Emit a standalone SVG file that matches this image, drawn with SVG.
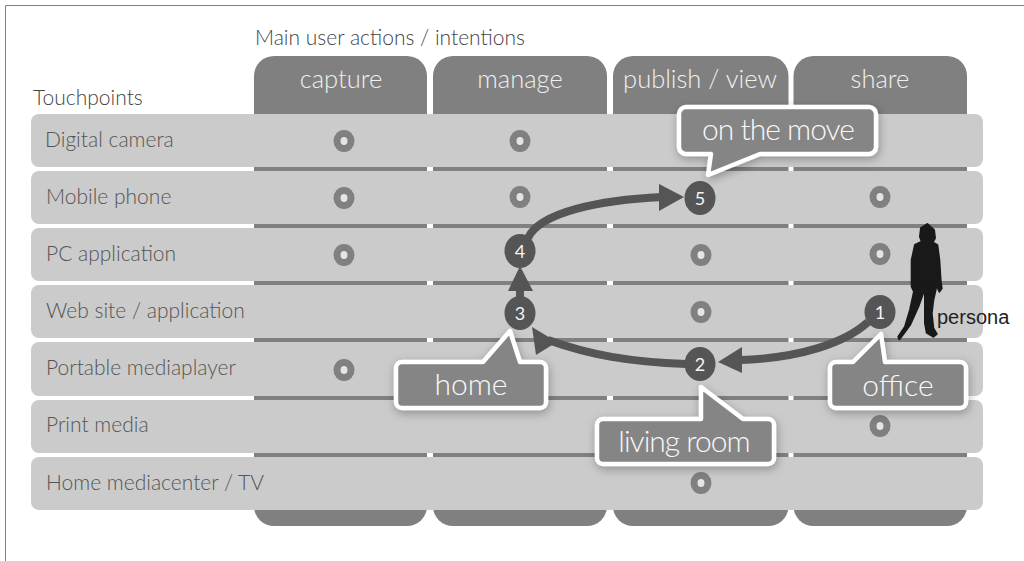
<svg xmlns="http://www.w3.org/2000/svg" width="1024" height="561" viewBox="0 0 1024 561">
<defs>
<style>
text{font-family:"Lato","Open Sans","Liberation Sans",sans-serif;font-weight:300}
.col{fill:#808080}
.row{fill:#cbcbcb}
.rl{font-size:21px;fill:#555}
.ttl{font-size:21px;fill:#444}
.hd{font-size:25.500px;fill:#f0f0f0;text-anchor:middle}
.dot{fill:#e4e4e4;stroke:#808080;stroke-width:7}
.num{fill:#555}
.nt{font-size:18px;fill:#f4f4f4;text-anchor:middle;font-weight:400}
.call{fill:#858585;stroke:#fff;stroke-width:4.500;stroke-linejoin:round;filter:url(#sh)}
.ct{font-size:30px;fill:#f8f8f8;text-anchor:middle}
.tight{letter-spacing:-1px}
.ln{fill:none;stroke:#555;stroke-width:8}
.hdh{fill:#555}
</style>
<filter id="sh" x="-20%" y="-30%" width="140%" height="170%"><feDropShadow dx="1" dy="3" stdDeviation="5" flood-color="#000" flood-opacity=".3"/></filter>
</defs>
<path d="M5.500 561V5.500H1024" fill="none" stroke="#808080" stroke-width="1"/>
<g id="columns">
<g id="col-capture"><rect class="col" x="254" y="56" width="173" height="470" rx="20"/><text class="hd" x="341" y="88">capture</text></g>
<g id="col-manage"><rect class="col" x="433" y="56" width="174" height="470" rx="20"/><text class="hd" x="520" y="88">manage</text></g>
<g id="col-publish"><rect class="col" x="613" y="56" width="175.500" height="470" rx="20"/><text class="hd" x="700" y="88">publish / view</text></g>
<g id="col-share"><rect class="col" x="793.500" y="56" width="173.500" height="470" rx="20"/><text class="hd" x="880" y="88">share</text></g>
</g>
<text class="ttl" x="33" y="105">Touchpoints</text>
<text class="ttl" x="255" y="45">Main user actions / intentions</text>
<g id="rows">
<g id="row-1"><rect class="row" x="31" y="114" width="952" height="53" rx="8"/><text class="rl" x="45" y="147">Digital camera</text></g>
<g id="row-2"><rect class="row" x="31" y="171" width="952" height="53" rx="8"/><text class="rl" x="46" y="204">Mobile phone</text></g>
<g id="row-3"><rect class="row" x="31" y="228" width="952" height="53" rx="8"/><text class="rl" x="46" y="261">PC application</text></g>
<g id="row-4"><rect class="row" x="31" y="285" width="952" height="53" rx="8"/><text class="rl" x="46" y="318">Web site / application</text></g>
<g id="row-5"><rect class="row" x="31" y="342" width="952" height="54" rx="8"/><text class="rl" x="46" y="375">Portable mediaplayer</text></g>
<g id="row-6"><rect class="row" x="31" y="400" width="952" height="53" rx="8"/><text class="rl" x="46" y="432">Print media</text></g>
<g id="row-7"><rect class="row" x="31" y="457" width="952" height="53" rx="8"/><text class="rl" x="46" y="490">Home mediacenter / TV</text></g>
</g>
<g id="dots">
<ellipse class="dot" cx="344" cy="141" rx="7" ry="7.500"/>
<ellipse class="dot" cx="520" cy="141" rx="7" ry="7.500"/>
<ellipse class="dot" cx="344" cy="198" rx="7" ry="7.500"/>
<ellipse class="dot" cx="520" cy="197" rx="7" ry="7.500"/>
<ellipse class="dot" cx="880" cy="197" rx="7" ry="7.500"/>
<ellipse class="dot" cx="344" cy="255" rx="7" ry="7.500"/>
<ellipse class="dot" cx="701" cy="255" rx="7" ry="7.500"/>
<ellipse class="dot" cx="880" cy="254" rx="7" ry="7.500"/>
<ellipse class="dot" cx="701" cy="312" rx="7" ry="7.500"/>
<ellipse class="dot" cx="344" cy="370" rx="7" ry="7.500"/>
<ellipse class="dot" cx="880" cy="426" rx="7" ry="7.500"/>
<ellipse class="dot" cx="701" cy="483" rx="7" ry="7.500"/>
</g>
<g id="persona">
<path fill="#191919" stroke="#191919" stroke-width="2" stroke-linejoin="round" d="M927.300 224L934 230L935 238L932.700 242.300L937.300 245L939.300 260L940.700 281.700L941.700 288.300L939.300 291.700L936.700 285L933.300 300L931.700 313.300L933.300 328.300L936.700 334L933.300 336.700L926.700 332.700L925 323L925 300L925 288L918.300 306.700L910 325L902.700 335L899.300 339.300L898.300 336.700L905 326.700L910 310L914 291.700L911.700 286.700L911.700 260L915 245L921.700 241.700L920 236.700L921 228Z"/>
<text x="937" y="324" font-size="20" fill="#222" style="font-family:'Liberation Sans',sans-serif;font-weight:400">persona</text>
</g>
<g id="connectors">
<path class="ln" d="M868 322C845 343 800 358 740 360"/>
<path class="hdh" d="M718 362L742 347L742 373Z"/>
<path class="ln" d="M686 364C630 362 590 355 548 340"/>
<path class="hdh" d="M532 327L557 342L536 355Z"/>
<path class="ln" d="M520 297V285"/>
<path class="hdh" d="M520 266L533 291H508Z"/>
<path class="ln" d="M528 238C540 212 600 200 662 197"/>
<path class="hdh" d="M684 197L659 184V211Z"/>
</g>
<g id="node-1"><ellipse class="num" cx="880" cy="312" rx="15.500" ry="17"/><text class="nt" x="880" y="318.500">1</text></g>
<g id="node-2"><ellipse class="num" cx="700" cy="364" rx="15.500" ry="17"/><text class="nt" x="700" y="370.500">2</text></g>
<g id="node-3"><ellipse class="num" cx="520" cy="313" rx="15.500" ry="17"/><text class="nt" x="520" y="319.500">3</text></g>
<g id="node-4"><ellipse class="num" cx="520" cy="251" rx="15.500" ry="17"/><text class="nt" x="520" y="257.500">4</text></g>
<g id="node-5"><ellipse class="num" cx="700" cy="198" rx="15.500" ry="17"/><text class="nt" x="700" y="204.500">5</text></g>
<g id="callout-move"><path class="call" d="M686 107H869a7 7 0 0 1 7 7V147a7 7 0 0 1-7 7H760L708 175L711 154H686a7 7 0 0 1-7-7V114a7 7 0 0 1 7-7z"/><text class="ct tight" x="778" y="140">on the move</text></g>
<g id="callout-home"><path class="call" d="M402 362H483L510 331L520 362H540a6 6 0 0 1 6 6V402a6 6 0 0 1-6 6H402a6 6 0 0 1-6-6V368a6 6 0 0 1 6-6z"/><text class="ct" x="471" y="395">home</text></g>
<g id="callout-living"><path class="call" d="M603 419H701V387L743 419H768a6 6 0 0 1 6 6V458a6 6 0 0 1-6 6H603a6 6 0 0 1-6-6V425a6 6 0 0 1 6-6z"/><text class="ct tight" x="684" y="452">living room</text></g>
<g id="callout-office"><path class="call" d="M836 362H853L881 334L885 362H960a6 6 0 0 1 6 6V402a6 6 0 0 1-6 6H836a6 6 0 0 1-6-6V368a6 6 0 0 1 6-6z"/><text class="ct" x="898" y="396">office</text></g>
</svg>
